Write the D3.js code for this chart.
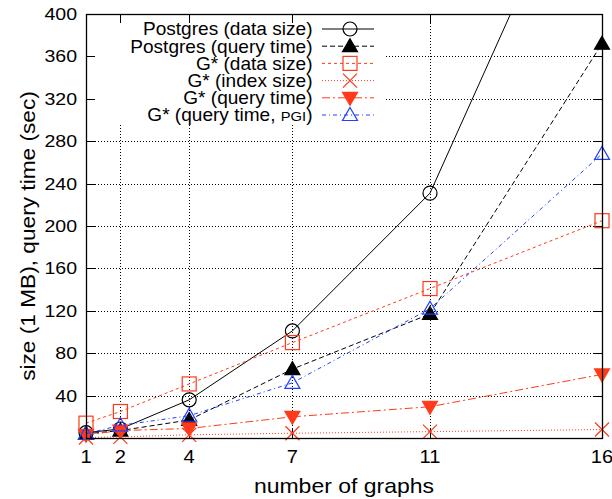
<!DOCTYPE html>
<meta charset="utf-8">
<style>
  body { margin: 0; background: #fff; }
  text { font-family: "Liberation Sans", Arial, sans-serif; }
</style>
<body>
<script src="https://d3js.org/d3.v7.min.js"></script>
<script>
// number of graphs on the x axis
var graphs = [1, 2, 4, 7, 11, 16];
var xTicks = [1, 2, 4, 7, 11, 16];
var yTicks = [40, 80, 120, 160, 200, 240, 280, 320, 360, 400];

// series values (MB / sec)
var pgDataSize  = [5, 8.5, 36, 101, 231, 592];
var pgQueryTime = [4, 7, 17, 65, 117, 372];
var gDataSize   = [14, 25, 51, 90, 141, 205];
var gIndexSize  = [0.5, 1, 3, 4.5, 6, 8];
var gQueryTime  = [3, 7, 9, 20, 29.5, 60];
var gQueryPgi   = [4, 12, 21, 52, 122, 268];

var red = "#ff3a1a", blue = "#2040ff";

var series = [
  {name: "Postgres (data size)", values: pgDataSize, color: "#000", dash: null, marker: "circle"},
  {name: "Postgres (query time)", values: pgQueryTime, color: "#000", dash: "5,3", marker: "triUpFill"},
  {name: "G* (data size)", values: gDataSize, color: red, dash: "3,3", marker: "square"},
  {name: "G* (index size)", values: gIndexSize, color: red, dash: "1,2", marker: "cross"},
  {name: "G* (query time)", values: gQueryTime, color: red, dash: "8,3,2,3", marker: "triDownFill"},
  {name: "G* (query time, PGI)", values: gQueryPgi, color: blue, dash: "4,3,1,3", marker: "triUp"}
];

var W = 612, H = 499;
var pL = 86, pR = 602, pT = 14, pB = 438;

var svg = d3.select("body").append("svg").attr("width", W).attr("height", H);

var x = d3.scaleLinear().domain([1, 16]).range([pL, pR]);
var y = d3.scaleLinear().domain([0, 400]).range([pB, pT]);

// text placed at (tx,ty), widened or narrowed by sx
function label(parent, tx, ty, size, anchor, sx, rot) {
  return parent.append("text")
    .attr("transform", "translate(" + tx + "," + ty + ")" + (rot ? " rotate(" + rot + ")" : "") + " scale(" + sx + ",1)")
    .attr("font-size", size).attr("text-anchor", anchor);
}

// grid
var grid = svg.append("g").attr("stroke", "#000").attr("stroke-width", 1).attr("stroke-dasharray", "1,2");
grid.selectAll(".gy").data(yTicks.filter(function(d){ return d < 400; })).enter().append("line")
  .attr("x1", pL).attr("x2", pR)
  .attr("y1", function(d){ return Math.round(y(d)) + 0.5; })
  .attr("y2", function(d){ return Math.round(y(d)) + 0.5; });
grid.selectAll(".gx").data(xTicks.filter(function(d){ return d > 1 && d < 16; })).enter().append("line")
  .attr("y1", pT).attr("y2", pB)
  .attr("x1", function(d){ return Math.round(x(d)) + 0.5; })
  .attr("x2", function(d){ return Math.round(x(d)) + 0.5; });

// key box hides the grid behind it
svg.append("rect").attr("x", pL + 1).attr("y", pT + 1).attr("width", 385 - pL).attr("height", 110).attr("fill", "#fff");

// ticks (inward, mirrored)
var tk = svg.append("g").attr("stroke", "#000").attr("stroke-width", 1);
yTicks.forEach(function(v) {
  var yy = Math.round(y(v)) + 0.5;
  tk.append("line").attr("x1", pL).attr("x2", pL + 9).attr("y1", yy).attr("y2", yy);
  tk.append("line").attr("x1", pR - 9).attr("x2", pR).attr("y1", yy).attr("y2", yy);
});
xTicks.forEach(function(v) {
  var xx = Math.round(x(v)) + 0.5;
  tk.append("line").attr("x1", xx).attr("x2", xx).attr("y1", pB).attr("y2", pB - 9);
  tk.append("line").attr("x1", xx).attr("x2", xx).attr("y1", pT).attr("y2", pT + 9);
});

// tick labels
yTicks.forEach(function(d) {
  label(svg, pL - 9, y(d) + 6, 17, "end", 1.15).text(d);
});
xTicks.forEach(function(d) {
  label(svg, x(d), 463, 17.5, "middle", 1.15).text(d);
});

// axis titles
label(svg, (pL + pR) / 2, 493, 20, "middle", 1.15).text("number of graphs");
label(svg, 35, 236, 21, "middle", 1.08, -90).text("size (1 MB), query time (sec)");

// clip for lines
svg.append("clipPath").attr("id", "plot").append("rect")
  .attr("x", pL).attr("y", pT).attr("width", pR - pL).attr("height", pB - pT);

var line = d3.line().x(function(d){ return x(d[0]); }).y(function(d){ return y(d[1]); });

function drawMarker(g, kind, color) {
  if (kind === "circle") {
    g.append("circle").attr("r", 7).attr("fill", "none").attr("stroke", color).attr("stroke-width", 1.2);
  } else if (kind === "square") {
    g.append("rect").attr("x", -7).attr("y", -7).attr("width", 14).attr("height", 14)
      .attr("fill", "none").attr("stroke", color).attr("stroke-width", 1.2);
  } else if (kind === "cross") {
    g.append("path").attr("d", "M-7,-7L7,7M-7,7L7,-7").attr("stroke", color).attr("stroke-width", 1.2);
  } else if (kind === "triUp" || kind === "triUpFill") {
    g.append("path").attr("d", "M0,-7.5L7.5,5.5L-7.5,5.5Z")
      .attr("fill", kind === "triUpFill" ? color : "none").attr("stroke", color).attr("stroke-width", 1.2);
  } else if (kind === "triDownFill") {
    g.append("path").attr("d", "M0,7.5L7.5,-5.5L-7.5,-5.5Z").attr("fill", color).attr("stroke", color).attr("stroke-width", 1.2);
  }
}

series.forEach(function(s) {
  var pts = graphs.map(function(g, i){ return [g, s.values[i]]; });
  svg.append("path").attr("d", line(pts)).attr("clip-path", "url(#plot)")
    .attr("fill", "none").attr("stroke", s.color).attr("stroke-width", 1)
    .attr("stroke-dasharray", s.dash);
  pts.filter(function(p){ return p[1] <= 400; }).forEach(function(p) {
    var g = svg.append("g").attr("transform", "translate(" + x(p[0]) + "," + y(p[1]) + ")");
    drawMarker(g, s.marker, s.color);
  });
});

// legend
var key = svg.append("g");
series.forEach(function(s, i) {
  var yy = 29 + i * 17.2;
  var t = label(key, 312.5, yy + 6.3, 17.5, "end", 1.09);
  if (s.name === "G* (query time, PGI)") {
    t.append("tspan").text("G* (query time, ");
    t.append("tspan").attr("font-size", 13.5).text("PGI");
    t.append("tspan").text(")");
  } else {
    t.text(s.name);
  }
  key.append("line").attr("x1", 322).attr("x2", 374).attr("y1", yy).attr("y2", yy)
    .attr("stroke", s.color).attr("stroke-width", 1).attr("stroke-dasharray", s.dash);
  drawMarker(key.append("g").attr("transform", "translate(350," + yy + ")"), s.marker, s.color);
});

// border
svg.append("rect").attr("x", pL + 0.5).attr("y", pT + 0.5).attr("width", pR - pL).attr("height", pB - pT)
  .attr("fill", "none").attr("stroke", "#000").attr("stroke-width", 1.3);
</script>
</body>
